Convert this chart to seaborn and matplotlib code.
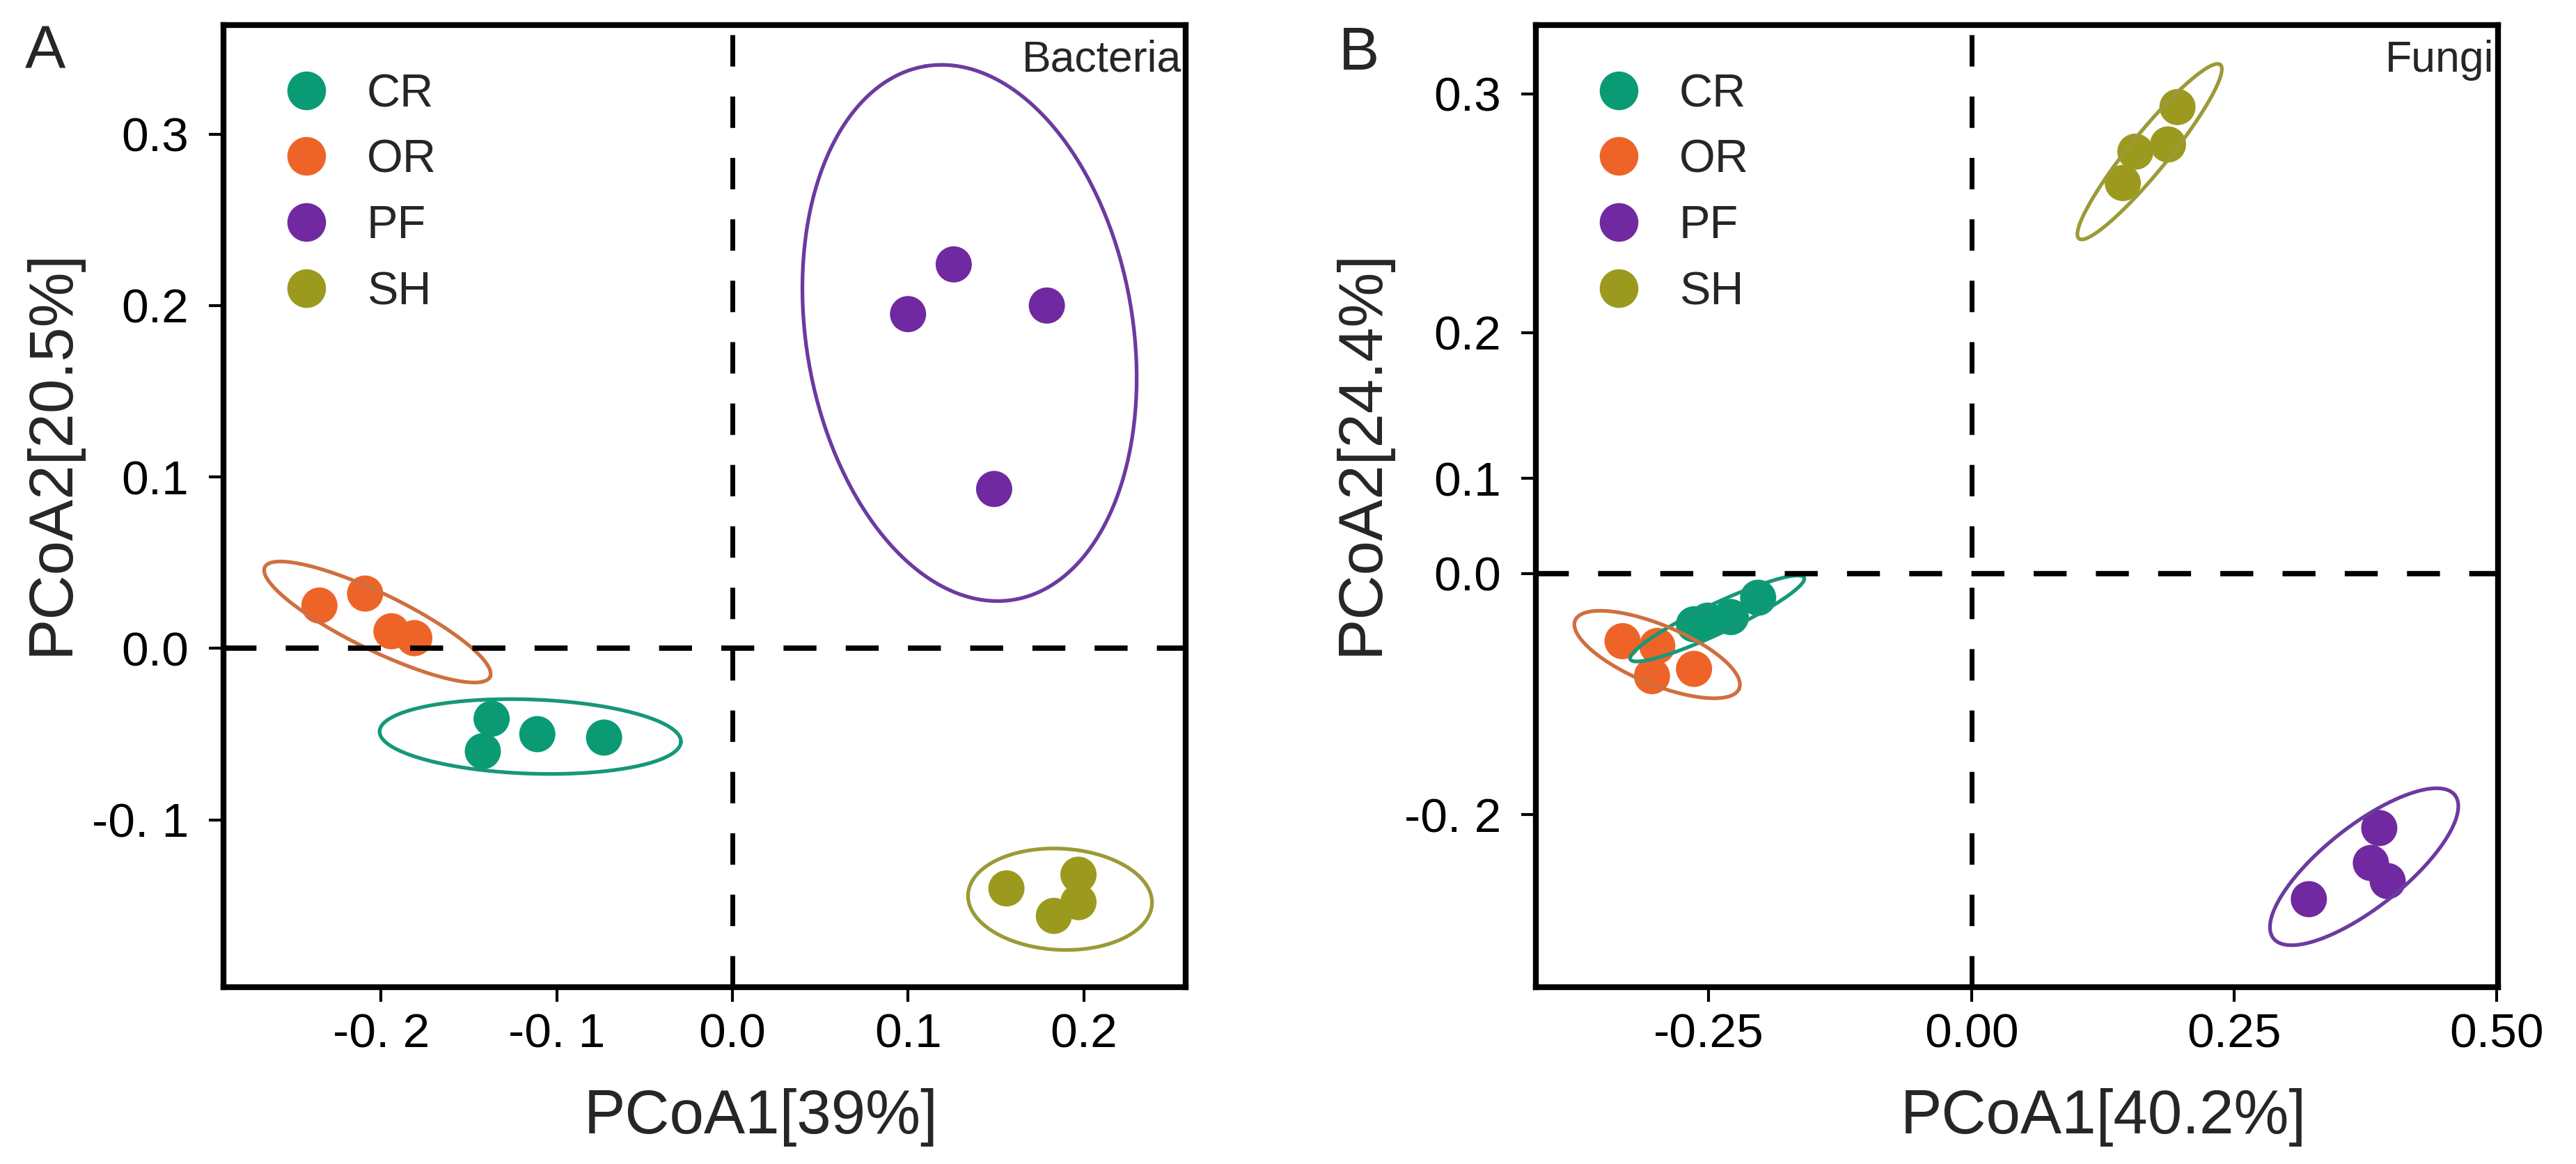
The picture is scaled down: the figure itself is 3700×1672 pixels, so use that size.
import numpy as np
import pandas as pd
import matplotlib
matplotlib.use("Agg")
import matplotlib.pyplot as plt
import seaborn as sns
from matplotlib.lines import Line2D

# groups and colours
groups = ["CR", "OR", "PF", "SH"]
point_colors = ["#0b9b74", "#ee6428", "#7029a0", "#9b9a1f"]
ring_colors = ["#169878", "#cf6f40", "#6c3aa0", "#9c9a36"]

# panel A - bacteria
bac_group = ["CR"] * 4 + ["OR"] * 4 + ["PF"] * 4 + ["SH"] * 4
bac_pc1 = [-0.137, -0.142, -0.111, -0.073,
           -0.235, -0.209, -0.194, -0.181,
           0.100, 0.126, 0.179, 0.149,
           0.156, 0.197, 0.197, 0.183]
bac_pc2 = [-0.041, -0.060, -0.050, -0.052,
           0.025, 0.032, 0.010, 0.006,
           0.195, 0.224, 0.200, 0.093,
           -0.140, -0.132, -0.148, -0.156]
# ellipse centre, semi-axes (in PC1 units) and tilt, per group
bac_ell_x = [-0.115, -0.202, 0.135, 0.1865]
bac_ell_y = [-0.0514, 0.0154, 0.184, -0.1463]
bac_ell_a = [0.0858, 0.0713, 0.1539, 0.0524]
bac_ell_b = [0.0211, 0.0161, 0.0930, 0.0288]
bac_ell_ang = [-2, -26, 99.4, -3]
bac_xticks = [-0.2, -0.1, 0.0, 0.1, 0.2]
bac_xticklabels = ["-0. 2", "-0. 1", "0.0", "0.1", "0.2"]
bac_yticks = [-0.1, 0.0, 0.1, 0.2, 0.3]
bac_yticklabels = ["-0. 1", "0.0", "0.1", "0.2", "0.3"]

# panel B - fungi
fun_group = ["CR"] * 4 + ["OR"] * 4 + ["PF"] * 4 + ["SH"] * 4
fun_pc1 = [-0.203, -0.229, -0.251, -0.264,
           -0.332, -0.299, -0.304, -0.264,
           0.388, 0.380, 0.396, 0.321,
           0.196, 0.187, 0.156, 0.144]
fun_pc2 = [-0.020, -0.036, -0.039, -0.042,
           -0.056, -0.060, -0.085, -0.079,
           -0.211, -0.240, -0.255, -0.270,
           0.387, 0.356, 0.350, 0.324]
fun_ell_x = [-0.2419, -0.2991, 0.3736, 0.1695]
fun_ell_y = [-0.0372, -0.0671, -0.2431, 0.350]
fun_ell_a = [0.0913, 0.0845, 0.110, 0.1066]
fun_ell_b = [0.0141, 0.0282, 0.0388, 0.0184]
fun_ell_ang = [25.2, -22.6, 38.3, 50.9]
fun_xticks = [-0.25, 0.0, 0.25, 0.5]
fun_xticklabels = ["-0.25", "0.00", "0.25", "0.50"]
# the published axis has uneven spacing for 0.1 / 0.3
fun_yticks = [-0.2, 0.0, 0.079, 0.2, 0.398]
fun_yticklabels = ["-0. 2", "0.0", "0.1", "0.2", "0.3"]

sns.set_style("ticks")
plt.rcParams["font.family"] = ["Liberation Sans", "DejaVu Sans"]


def ellipse_xy(ax, cx, cy, a, b, angle):
    # build the ellipse in screen-proportional units, then map back to data
    p0 = ax.transData.transform((0, 0))
    p1 = ax.transData.transform((1, 1))
    r = (p1[1] - p0[1]) / (p1[0] - p0[0])
    t = np.linspace(0, 2 * np.pi, 300)
    th = np.deg2rad(angle)
    u = a * np.cos(t) * np.cos(th) - b * np.sin(t) * np.sin(th)
    v = a * np.cos(t) * np.sin(th) + b * np.sin(t) * np.cos(th)
    return cx + u, cy + v / r


def draw_panel(ax, df, ell, xlim, ylim, xticks, xticklabels, yticks,
               yticklabels, xlabel, ylabel, tag, xlab_x, ylab_x):
    ax.set_xlim(*xlim)
    ax.set_ylim(*ylim)
    sns.scatterplot(data=df, x="pc1", y="pc2", hue="group", hue_order=groups,
                    palette=point_colors, s=1400, linewidth=0, legend=False,
                    ax=ax, zorder=3)
    ax.set_xlim(*xlim)
    ax.set_ylim(*ylim)
    for i in range(len(groups)):
        ex, ey = ellipse_xy(ax, ell[0][i], ell[1][i], ell[2][i], ell[3][i], ell[4][i])
        ax.plot(ex, ey, color=ring_colors[i], lw=3.8, zorder=4)

    ax.axhline(0, color="black", lw=5.5, ls=(0, (6.2, 5.5)), zorder=5)
    ax.axvline(0, color="black", lw=5.0, ls=(0, (6.5, 6.2)), zorder=5)

    ax.set_xticks(xticks)
    ax.set_xticklabels(xticklabels)
    ax.set_yticks(yticks)
    ax.set_yticklabels(yticklabels)
    ax.tick_params(axis="both", direction="out", length=15, width=3,
                   labelsize=50, colors="black")
    ax.tick_params(axis="x", pad=11)
    ax.tick_params(axis="y", pad=21)
    for sp in ax.spines.values():
        sp.set_visible(True)
        sp.set_linewidth(6)
        sp.set_color("black")

    ax.set_xlabel(xlabel, fontsize=64)
    ax.set_ylabel(ylabel, fontsize=64)
    ax.xaxis.set_label_coords(xlab_x, -0.105)
    ax.yaxis.set_label_coords(ylab_x, 0.556)

    ax.text(0.996, 0.985, tag, transform=ax.transAxes, ha="right", va="top",
            fontsize=45, zorder=6)

    handles = [Line2D([], [], marker="o", ls="", color=c, markersize=39)
               for c in point_colors]
    ax.legend(handles, groups, loc="upper left", bbox_to_anchor=(0.062, 0.950),
              frameon=False, fontsize=48, handlelength=1.0, handletextpad=0.8,
              labelspacing=0.49, borderpad=0, borderaxespad=0)


bac_df = pd.DataFrame({"group": bac_group, "pc1": bac_pc1, "pc2": bac_pc2})
fun_df = pd.DataFrame({"group": fun_group, "pc1": fun_pc1, "pc2": fun_pc2})

fig = plt.figure(figsize=(37, 16.72), dpi=100)
axA = fig.add_axes([321 / 3700, 1 - 1418 / 1672, 1382 / 3700, 1382 / 1672])
axB = fig.add_axes([2206 / 3700, 1 - 1418 / 1672, 1382 / 3700, 1382 / 1672])

draw_panel(axA, bac_df,
           (bac_ell_x, bac_ell_y, bac_ell_a, bac_ell_b, bac_ell_ang),
           (-0.2896, 0.258), (-0.1976, 0.3636),
           bac_xticks, bac_xticklabels, bac_yticks, bac_yticklabels,
           "PCoA1[39%]", "PCoA2[20.5%]", "Bacteria", 0.559, -0.148)
draw_panel(axB, fun_df,
           (fun_ell_x, fun_ell_y, fun_ell_a, fun_ell_b, fun_ell_ang),
           (-0.4145, 0.501), (-0.343, 0.455),
           fun_xticks, fun_xticklabels, fun_yticks, fun_yticklabels,
           "PCoA1[40.2%]", "PCoA2[24.4%]", "Fungi", 0.59, -0.151)

fig.text(65 / 3700, 1 - 76 / 1672, "A", fontsize=63, ha="center", va="center")
fig.text(1952 / 3700, 1 - 78 / 1672, "B", fontsize=63, ha="center", va="center")

fig.savefig("out.png", dpi=100, facecolor="white")
